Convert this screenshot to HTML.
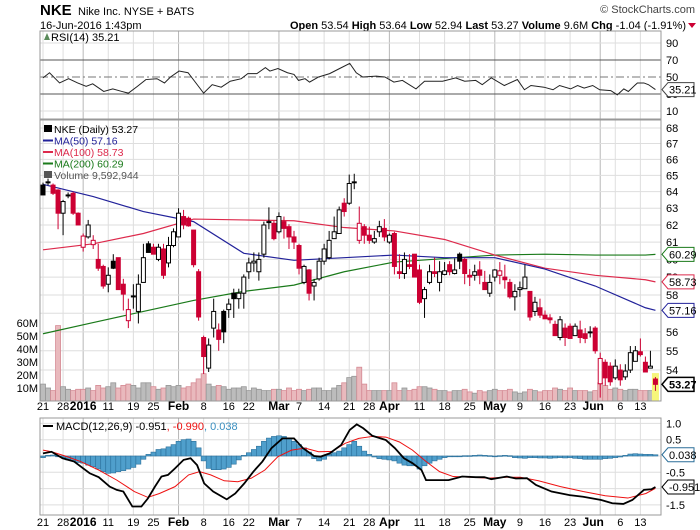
<!DOCTYPE html>
<html><head><meta charset="utf-8">
<style>
html,body{margin:0;padding:0;background:#fff;}
svg{display:block;font-family:"Liberation Sans",Arial,sans-serif;}
</style></head>
<body>
<svg id="chart" width="700" height="530" viewBox="0 0 700 530" xmlns="http://www.w3.org/2000/svg">
  <g>
    <text x="40" y="15" font-size="15" font-weight="bold">NKE</text>
    <text x="78" y="15" font-size="11">Nike Inc. NYSE + BATS</text>
    <text x="695" y="13" font-size="11" text-anchor="end" fill="#444">© StockCharts.com</text>
    <text x="40" y="29" font-size="11">16-Jun-2016 1:43pm</text>
    <text x="686" y="29" font-size="11" text-anchor="end"><tspan font-weight="bold">Open</tspan> 53.54 <tspan font-weight="bold">High</tspan> 53.64 <tspan font-weight="bold">Low</tspan> 52.94 <tspan font-weight="bold">Last</tspan> 53.27 <tspan font-weight="bold">Volume</tspan> 9.6M <tspan font-weight="bold">Chg</tspan> -1.04 (-1.91%)</text>
    <path d="M688,23 L696,23 L692,28 Z" fill="#cc0033"/>
  </g>
  <g id="grid"></g>
  <g id="rsi"></g>
  <g id="main"></g>
  <g id="macd"></g>
  <g id="labels"></g>
</svg>
<script>
// ---------- data ----------
const opens  = [64.4,64.6,64.4,64.1,62.7,63.8,63.9,62.7,60.7,61.3,60.85,60.0,59.6,58.6,59.9,60.1,58.6,56.6,57.9,57.1,58.7,60.9,60.7,60.0,60.6,59.8,60.8,61.3,62.5,62.4,61.7,59.3,55.7,54.1,56.2,56.1,57.1,57.2,58.1,57.8,58.1,59.3,59.8,59.3,60.3,62.2,62.1,61.6,62.2,61.9,61.3,60.8,58.7,59.4,58.5,58.9,59.9,60.1,61.2,61.5,63.3,63.3,64.6,61.1,61.9,61.4,61.0,61.6,61.8,61.0,61.5,59.3,59.2,59.7,60.3,59.4,57.8,58.7,59.3,58.7,59.15,59.7,59.2,60.3,60.0,59.1,59.1,59.4,58.7,58.1,59.0,59.1,59.0,58.7,57.9,58.3,58.35,58.2,57.1,57.3,56.9,56.75,56.4,55.7,56.2,56.3,55.8,56.1,55.9,56.0,56.2,53.3,54.4,54.2,53.6,54.0,53.65,54.0,54.45,54.95,54.4,54.1,53.54];
const highs  = [64.55,64.8,64.5,64.15,63.5,63.95,64.0,62.75,61.5,62.3,61.4,60.9,59.7,59.55,60.3,60.1,58.9,57.8,58.6,59.15,60.9,61.05,60.9,60.9,60.9,61.3,61.8,63.0,62.9,62.5,61.7,59.45,55.8,55.65,57.8,56.45,57.2,57.8,58.35,58.35,59.15,60.1,60.4,60.4,62.2,63.05,62.25,62.75,62.5,62.05,61.65,60.9,59.7,59.45,58.9,60.1,60.9,61.65,62.5,63.1,63.6,65.05,65.1,63.1,62.05,61.9,61.65,62.25,62.35,61.5,61.6,60.3,60.4,60.3,60.3,59.7,58.45,59.7,60.1,59.9,59.85,59.9,60.05,60.4,60.1,59.45,59.7,59.9,59.35,59.15,59.45,59.85,59.7,58.9,58.6,58.75,59.7,58.2,57.9,57.8,57.15,56.95,56.6,56.85,56.45,56.45,56.45,56.6,56.2,56.3,56.3,54.9,54.55,54.4,54.55,54.3,54.3,55.25,55.25,55.65,54.7,55.0,53.64];
const lows   = [63.8,64.4,63.8,61.75,61.4,63.6,62.6,62.0,60.45,61.2,60.6,59.35,58.35,58.15,59.45,58.3,57.15,56.2,57.25,56.45,58.7,60.4,60.3,59.9,58.9,59.55,60.7,61.3,61.75,61.9,59.55,56.6,53.8,53.9,55.7,55.0,55.4,56.75,56.75,57.25,57.25,58.9,59.3,58.8,60.1,61.75,61.1,61.5,61.2,60.6,60.6,59.15,58.6,57.7,57.7,58.8,59.7,60.0,61.2,61.5,62.5,63.2,64.15,60.9,60.9,60.9,60.9,61.3,61.05,60.9,59.15,58.9,58.9,59.45,59.0,57.5,56.75,58.6,59.0,58.2,59.1,59.1,59.15,59.45,58.6,58.5,58.8,58.6,58.35,57.9,58.75,58.6,58.35,57.8,57.15,57.9,58.35,56.6,56.85,56.75,56.7,56.45,55.85,55.55,55.25,55.7,55.8,55.4,55.4,55.7,54.85,52.6,53.2,53.2,53.5,53.2,53.5,53.85,54.45,54.7,53.9,54.1,52.94];
const closes = [63.8,64.6,63.9,62.7,63.4,63.8,62.7,62.0,61.35,62.0,61.1,59.5,58.5,59.1,59.5,58.3,58.05,57.2,57.95,58.6,60.1,60.4,60.3,60.7,59.1,60.8,61.6,62.7,62.0,61.95,59.7,56.8,54.7,55.3,57.1,55.6,56.0,57.5,57.8,58.1,59.0,59.8,59.9,60.0,62.0,62.15,61.2,62.5,61.8,61.3,61.0,59.5,59.6,58.1,58.7,59.9,60.6,61.1,61.6,62.9,62.8,64.5,64.55,62.1,61.4,61.1,61.2,61.9,61.3,61.4,59.6,59.2,60.0,59.6,59.0,57.6,58.3,59.3,59.2,59.3,59.35,59.3,59.4,59.9,59.2,59.0,59.3,59.1,58.3,58.7,59.4,59.35,58.85,57.9,58.2,58.4,59.0,56.8,57.6,56.9,56.7,56.65,55.8,56.65,55.7,55.65,56.3,55.7,55.65,55.95,55.0,54.6,53.6,53.4,54.2,53.5,53.95,54.9,55.0,54.8,53.9,54.2,53.27];
const volumes = [13,10,8,58,11,9,8,9,9,10,8,12,10,11,14,10,12,13,12,10,14,14,11,9,10,12,11,12,10,11,14,17,21,13,11,12,11,9,10,10,11,8,10,9,8,8,9,9,8,10,8,9,8,9,10,10,8,8,10,12,14,18,19,26,13,8,8,8,8,8,14,8,10,8,9,11,11,10,9,8,8,7,8,8,9,7,6,8,7,8,9,8,8,9,7,6,7,9,8,7,8,8,10,9,8,10,8,8,8,7,8,14,12,9,10,9,8,9,9,8,8,8,10];
const ma50Days  = [0,10,20,30,40,50,60,70,80,90,100,110,120,122];
const ma50Vals  = [64.45,63.7,62.8,62.2,60.35,59.95,60.1,60.25,60.1,60.1,59.45,58.5,57.3,57.16];
const ma100Vals = [60.55,60.9,61.5,62.35,62.3,62.25,61.85,61.65,61.15,60.25,59.5,59.1,58.85,58.73];
const ma200Vals = [55.9,56.5,57.1,57.7,58.2,58.55,59.3,59.85,60.05,60.25,60.3,60.25,60.25,60.29];
const rsiDays = [0,1.3,3.3,5.1,6.9,8.6,9.9,12.1,13.9,15.7,17,18.8,20.5,22.7,24.2,25.4,27.1,28.9,30.2,32,33.7,35.5,37.3,39.5,40.8,42.6,44.3,45.2,46.8,48.7,50,50.9,52.2,53.1,54.9,57.1,59.1,61.1,62.4,63.7,66.4,68.1,69.9,71.6,74.3,76,79.6,82.2,84,86.2,87.5,89.3,91.9,94.5,95.9,97.2,99.8,101.6,102.9,105.1,106.5,107.8,109.5,110.9,113.1,114.4,115.7,116.6,118.4,119.7,120.6,122];
const rsiVals = [49,55,43,48,43,39,42,33,36,33,31,39,47,48,43,50,57,55,45,31,41,38,45,48,54,54,61,57,60,55,53,46,48,44,50,54,60,66,55,50,51,50,44,46,36,45,45,49,45,46,41,49,40,47,35,40,38,35,40,36,40,37,40,35,34,29,36,33,43,43,41,35.21];
const macdDays = [0,1.7,3.9,6.2,9.3,11.1,13.3,14.7,16,17.8,19.6,20.9,22.3,23.6,24.9,26.3,28,29.4,30.7,32.1,33.9,36.6,38.3,40.1,41.9,43.7,45.5,47.7,50,51.8,54,55.3,57.1,59.4,61.1,62.5,63.8,65.6,68.3,70.1,71.9,73.6,75.4,76.3,78.6,80.8,83.5,86.2,87.9,89.3,92.4,94.2,96.4,98.2,101.3,104.9,107.6,111.2,113.4,115.6,117.4,119.7,121.2,122];
const macdVals = [0.08,0.13,-0.07,-0.17,-0.53,-0.65,-0.94,-1.04,-1.09,-1.55,-1.55,-1.30,-0.94,-0.63,-0.58,-0.38,-0.12,-0.07,-0.28,-0.84,-1.09,-1.33,-1.15,-0.84,-0.48,-0.17,0.24,0.54,0.54,0.24,0.0,-0.02,0.08,0.34,0.80,0.97,0.85,0.62,0.49,0.24,-0.07,-0.22,-0.43,-0.74,-0.74,-0.74,-0.63,-0.65,-0.65,-0.71,-0.63,-0.69,-0.68,-0.89,-1.09,-1.20,-1.25,-1.35,-1.45,-1.47,-1.35,-1.04,-1.02,-0.951];
const signalDays = [0,1.7,4.8,7.5,11.1,14.7,18.2,20.9,23.2,26.3,29,31.2,33.4,36.1,38.8,41.5,44.2,46.8,49.5,52.2,54.9,57.6,60.2,62.9,65.6,68.3,71,73.6,76.3,79,81.7,85.3,88.8,92.4,95.1,98.7,103.1,107.6,112,116.5,120.1,122];
const signalVals = [0.18,0.13,-0.02,-0.17,-0.43,-0.74,-1.09,-1.27,-1.15,-0.94,-0.58,-0.48,-0.58,-0.76,-0.79,-0.68,-0.43,-0.02,0.18,0.24,0.13,0.14,0.39,0.54,0.60,0.58,0.43,0.18,-0.17,-0.48,-0.63,-0.65,-0.68,-0.65,-0.65,-0.76,-0.94,-1.09,-1.22,-1.29,-1.15,-0.99];
const histVals = [-0.05,0.02,0.03,0.0,-0.05,-0.12,-0.15,-0.2,-0.22,-0.28,-0.33,-0.4,-0.48,-0.53,-0.52,-0.48,-0.45,-0.4,-0.35,-0.25,-0.1,0.05,0.12,0.2,0.22,0.28,0.35,0.45,0.5,0.52,0.45,0.25,-0.15,-0.38,-0.42,-0.42,-0.4,-0.35,-0.25,-0.12,0.02,0.1,0.2,0.3,0.45,0.55,0.6,0.62,0.6,0.55,0.45,0.35,0.25,0.12,-0.08,-0.15,-0.1,0.05,0.1,0.15,0.25,0.35,0.45,0.3,0.15,0.05,-0.03,-0.08,-0.1,-0.12,-0.15,-0.22,-0.28,-0.3,-0.3,-0.4,-0.3,-0.22,-0.15,-0.1,-0.05,-0.02,0.0,0.0,0.01,0.01,0.02,0.03,0.02,0.01,-0.01,0.01,0.02,0.01,-0.05,-0.06,-0.07,-0.05,-0.05,-0.06,-0.06,-0.07,-0.06,-0.05,-0.06,-0.05,-0.07,-0.08,-0.1,-0.1,-0.1,-0.1,-0.08,-0.07,-0.05,-0.03,0.02,0.06,0.07,0.06,0.05,0.05,0.038];
const dateTickDays = [0,4,8,13,18,22,27,32,37,41,47,51,56,61,65,69,75,80,85,90,95,100,105,111,114,119];
const dateTickLabels = ["21","28","2016","11","19","25","Feb","8","16","22","Mar","7","14","21","28","Apr","11","18","25","May","9","16","23","Jun","6","13"];
const priceTicks = [54,55,56,57,58,59,60,61,62,63,64,65,66,67,68];
const volTicks = [10,20,30,40,50,60];
const rsiTicks = [90,70,50,30,10];
const macdTicks = [1.0,0.5,-0.5,-1.5];

// ---------- scales ----------
const L=40, R=661;
const xDay = i => 43 + i*5.02;
const yPrice = p => 128 + 1050*Math.log(68/p);
const yVol = v => 401 - v*1.3;
const yRsi = v => 77 - (v-50)*0.85;
const yMacd = v => 456 - v*32.6;
const NS="http://www.w3.org/2000/svg";
function mk(parent, tag, attrs, text){
  const e=document.createElementNS(NS,tag);
  for(const k in attrs) e.setAttribute(k,attrs[k]);
  if(text!==undefined) e.textContent=text;
  parent.appendChild(e); return e;
}
const gGrid=document.getElementById('grid'), gRsi=document.getElementById('rsi'),
      gMain=document.getElementById('main'), gMacd=document.getElementById('macd'),
      gLab=document.getElementById('labels');
const monthLabels=["2016","Feb","Mar","Apr","May","Jun"];

// panels background grid
const panels=[[31,119],[120,401],[418,515]];
panels.forEach(([t,b],pi)=>{
  dateTickDays.forEach((d,k)=>{
    const bold=monthLabels.includes(dateTickLabels[k]);
    const ln=mk(gGrid,'line',{x1:xDay(d),x2:xDay(d),y1:t,y2:b,stroke:bold?'#b8b8b8':'#dedede','stroke-width':1});
    
    
  });
});
priceTicks.forEach(p=>{
  const ln=mk(gGrid,'line',{x1:L,x2:R,y1:yPrice(p),y2:yPrice(p),stroke:'#dedede'});
  
  
});
[1.0,0.5,0,-0.5,-1.0,-1.5].forEach(v=>{
  const ln=mk(gGrid,'line',{x1:L,x2:R,y1:yMacd(v),y2:yMacd(v),stroke:'#dedede'});
  
  
});
[90,10].forEach(v=>{
  const ln=mk(gGrid,'line',{x1:L,x2:R,y1:yRsi(v),y2:yRsi(v),stroke:'#dedede'});
  
  
});

// ---------- RSI ----------
[70,30].forEach(v=>{
  const ln=mk(gRsi,'line',{x1:L,x2:R,y1:yRsi(v),y2:yRsi(v),stroke:'#555'});
  
  
});
const mid=mk(gRsi,'line',{x1:L,x2:R,y1:yRsi(50),y2:yRsi(50),stroke:'#777','stroke-dasharray':'8,3,2,3'});


const rsiPath=mk(gRsi,'polyline',{points:rsiDays.map((d,k)=>xDay(d)+','+yRsi(rsiVals[k])).join(' '),fill:'none',stroke:'#222','stroke-width':1});


const rsiBorder=mk(gRsi,'rect',{x:L,y:31,width:R-L,height:88,fill:'none',stroke:'#999'});


rsiTicks.forEach(v=>{
  const t=mk(gRsi,'text',{x:666,y:yRsi(v)+4,'font-size':11},String(v));
  
  
});
mk(gRsi,'path',{d:'M44,40 L47,33 L50,40 Z',fill:'#5a8a5a'});
const rsiLeg=mk(gRsi,'text',{x:51,y:41,'font-size':11},'RSI(14) 35.21');



// ---------- main: volume ----------
const clip=mk(gMain,'clipPath',{id:'mclip'});
mk(clip,'rect',{x:L,y:120,width:R-L,height:281});
const gm=mk(gMain,'g',{'clip-path':'url(#mclip)'});
volumes.forEach((v,i)=>{
  const down = i>0 && closes[i]<closes[i-1];
  const last = i===volumes.length-1;
  const r=mk(gm,'rect',{x:xDay(i)-2.5,y:yVol(v),width:5,height:401-yVol(v),
    fill: last?'#f2f27a':(down?'#e9b9bd':'#bcbcbc'), stroke: last?'#d8d800':(down?'#d58a94':'#979797'),'stroke-width':0.8});
  
  
});
// MAs
function maLine(vals,color,name){
  const pl=mk(gm,'polyline',{points:ma50Days.map((d,k)=>xDay(d)+','+yPrice(vals[k])).join(' '),fill:'none',stroke:color,'stroke-width':1.2});
  
  
}
maLine(ma200Vals,'#1a7a1a','ma200-line');
maLine(ma100Vals,'#dd2a4c','ma100-line');
maLine(ma50Vals,'#22229a','ma50-line');
// last day highlight
const hl=mk(gm,'rect',{x:xDay(122)-3.5,y:yPrice(highs[122])-4,width:7,height:401-yPrice(highs[122])+4,fill:'#f6f67a'});


// candles
opens.forEach((o,i)=>{
  const c=closes[i], h=highs[i], l=lows[i];
  const down = i>0 && c<closes[i-1];
  const col = down?'#cc0033':'#000';
  const filled = c<o;
  const x=xDay(i);
  const g=mk(gm,'g',{});
  
  
  mk(g,'line',{x1:x,x2:x,y1:yPrice(h),y2:yPrice(l),stroke:col,'stroke-width':1});
  const top=yPrice(Math.max(o,c)), bot=yPrice(Math.min(o,c));
  mk(g,'rect',{x:x-2,y:top,width:4,height:Math.max(bot-top,1),fill:filled?col:'#fff',stroke:col,'stroke-width':1});
});
const mainBorder=mk(gMain,'rect',{x:L,y:120,width:R-L,height:281,fill:'none',stroke:'#999'});


priceTicks.forEach(p=>{
  const t=mk(gMain,'text',{x:666,y:yPrice(p)+4,'font-size':11},String(p));
  
  
});
volTicks.forEach(v=>{
  const t=mk(gMain,'text',{x:38,y:yVol(v)+4,'font-size':11,'text-anchor':'end'},v+'M');
  
  
});
// legend
const legItems=[['NKE (Daily) 53.27','#000'],['MA(50) 57.16','#22229a'],['MA(100) 58.73','#dd2a4c'],['MA(200) 60.29','#1a7a1a'],['Volume 9,592,944','#555']];
legItems.forEach(([txt,col],k)=>{
  const y=133+k*11.5;
  if(k>=1&&k<=3) mk(gMain,'line',{x1:43,x2:53,y1:y-4,y2:y-4,stroke:col,'stroke-width':2});
  else mk(gMain,'rect',{x:44,y:y-8,width:8,height:7,fill:col});
  const t=mk(gMain,'text',{x:54,y:y,'font-size':10.5,fill:col},txt);
  
  
});

// ---------- MACD ----------
histVals.forEach((v,i)=>{
  const y0=yMacd(0), y1=yMacd(v);
  const r=mk(gMacd,'rect',{x:xDay(i)-2.5,y:Math.min(y0,y1),width:5,height:Math.max(Math.abs(y1-y0),0.8),fill:'#4f9fcc',stroke:'#2b6f99','stroke-width':0.6});
  
  
});
const sigLine=mk(gMacd,'polyline',{points:signalDays.map((d,k)=>xDay(d)+','+yMacd(signalVals[k])).join(' '),fill:'none',stroke:'#ee1111','stroke-width':1});


const macdLine=mk(gMacd,'polyline',{points:macdDays.map((d,k)=>xDay(d)+','+yMacd(macdVals[k])).join(' '),fill:'none',stroke:'#000','stroke-width':1.8});


const macdBorder=mk(gMacd,'rect',{x:L,y:418,width:R-L,height:97,fill:'none',stroke:'#999'});


macdTicks.forEach(v=>{
  const t=mk(gMacd,'text',{x:666,y:yMacd(v)+4,'font-size':11},v.toFixed(1));
  
  
});
mk(gMacd,'line',{x1:43,x2:53,y1:426,y2:426,stroke:'#000','stroke-width':2});
const ml=mk(gMacd,'text',{x:56,y:430,'font-size':11},'');


mk(ml,'tspan',{},'MACD(12,26,9) -0.951');
mk(ml,'tspan',{fill:'#ee1111'},', -0.990');
mk(ml,'tspan',{fill:'#3a8fc0'},', 0.038');

// ---------- value tags ----------
function tag(y,txt,col,bold,name){
  const g=mk(gLab,'g',{});
  
  
  mk(g,'path',{d:`M662,${y} L668,${y-7} L694,${y-7} L694,${y+7} L668,${y+7} Z`,fill:'#fff',stroke:col,'stroke-width':bold?1.5:1});
  mk(g,'text',{x:669,y:y+4,'font-size':11,fill:col==='#000'||bold?'#000':'#000','font-weight':bold?'bold':'normal'},txt);
}
tag(yPrice(60.29),'60.29','#1a7a1a',false,'ma200-value-tag');
tag(yPrice(58.73),'58.73','#dd2a4c',false,'ma100-value-tag');
tag(yPrice(57.16),'57.16','#22229a',false,'ma50-value-tag');
tag(yPrice(53.27),'53.27','#000',true,'last-price-tag');
tag(yRsi(35.21),'35.21','#444',false,'rsi-value-tag');
tag(yMacd(0.038),'0.038','#2b6f99',false,'histogram-value-tag');
tag(yMacd(-0.951),'-0.951','#000',false,'macd-value-tag');

// ---------- date axes ----------
[410,526].forEach((yy,ai)=>{
  dateTickDays.forEach((d,k)=>{
    const lbl=dateTickLabels[k];
    const bold=monthLabels.includes(lbl);
    let x=xDay(d);
    if(lbl==='Jun') x-=7; if(lbl==='6') x+=5;
    const t=mk(gLab,'text',{x:x,y:yy,'font-size':bold?12:11,'font-weight':bold?'bold':'normal','text-anchor':'middle'},lbl);
    
    
  });
});
</script>
</body></html>
